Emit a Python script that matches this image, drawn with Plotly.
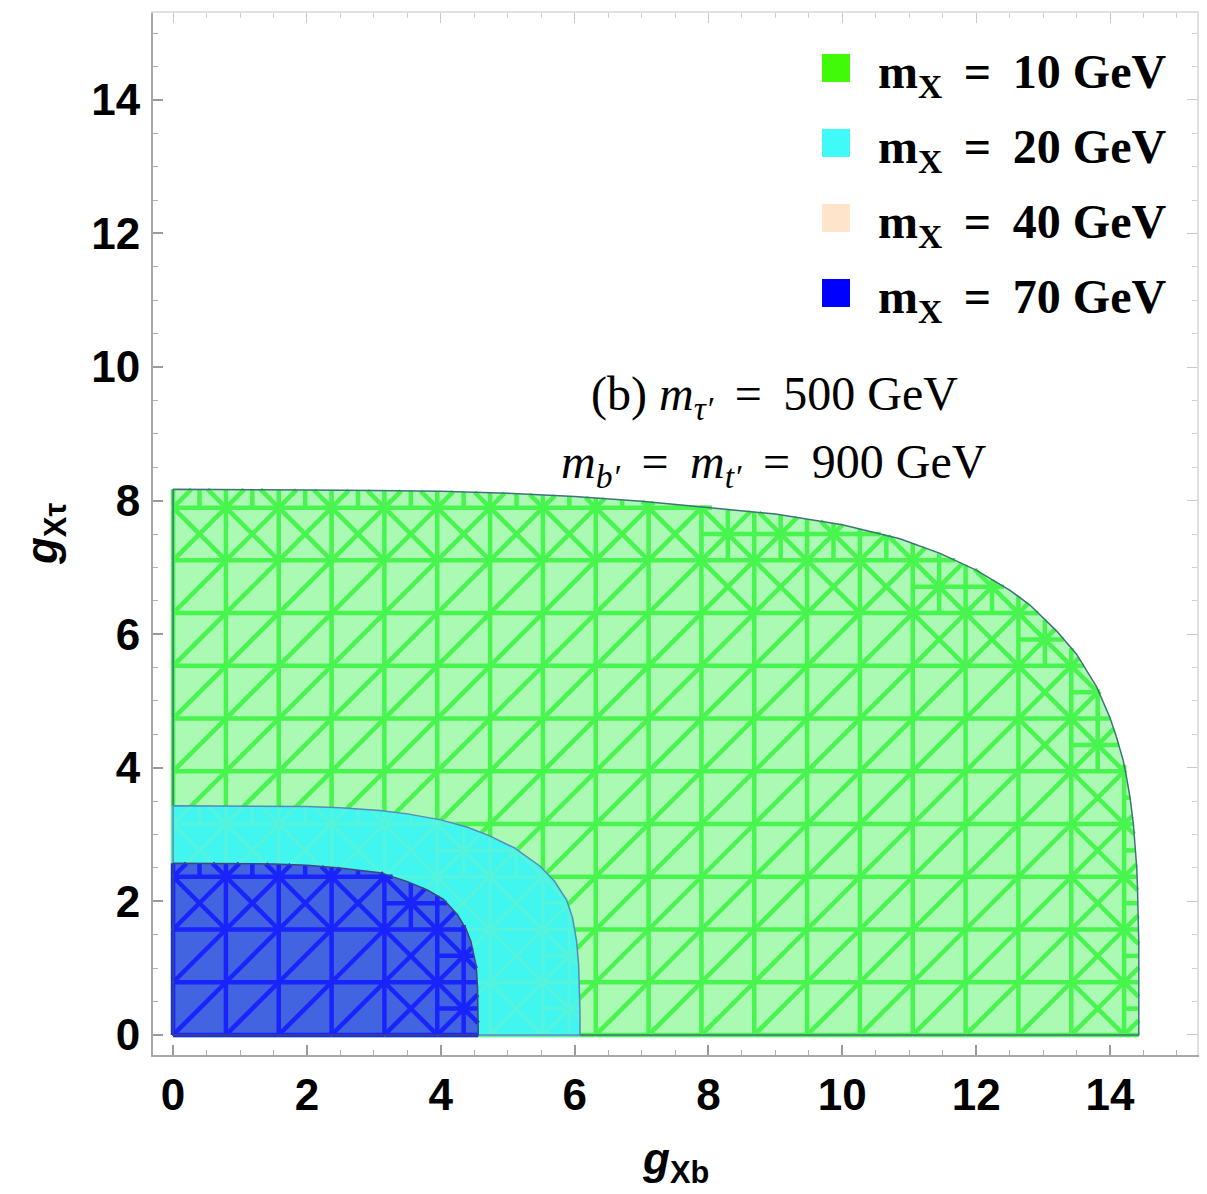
import numpy as np
import plotly.graph_objects as go

# Outer (upper-right) edge of each allowed region in the (g_Xb, g_Xtau) plane,
# running from the g_Xtau axis down to the g_Xb axis.
green_x = [0, 1, 2, 3, 4, 5, 6, 7, 8, 9, 10, 10.86, 11.46, 12.0, 12.5, 12.8,
           13.2, 13.5, 13.8, 13.9, 14.0, 14.1, 14.2, 14.25, 14.3, 14.35, 14.38,
           14.4, 14.41, 14.42, 14.43, 14.43, 14.43]
green_y = [8.17, 8.17, 8.16, 8.15, 8.14, 8.11, 8.06, 7.99, 7.90, 7.80, 7.64,
           7.43, 7.21, 6.96, 6.66, 6.44, 6.05, 5.70, 5.21, 4.99, 4.75, 4.45,
           4.10, 3.84, 3.55, 3.15, 2.80, 2.50, 2.23, 1.90, 1.40, 0.70, 0]

cyan_x = [0, 1, 2, 2.5, 3.09, 3.5, 4.0, 4.4, 4.73, 5.1, 5.48, 5.7, 5.88,
          5.97, 6.03, 6.06, 6.075, 6.08, 6.08]
cyan_y = [3.43, 3.43, 3.42, 3.40, 3.36, 3.31, 3.22, 3.11, 2.98, 2.80, 2.53,
          2.30, 2.02, 1.75, 1.40, 1.05, 0.70, 0.35, 0]

blue_x = [0, 1, 1.5, 2, 2.49, 3.09, 3.49, 3.8, 4.04, 4.25, 4.38, 4.45, 4.53,
          4.55, 4.56, 4.56]
blue_y = [2.57, 2.57, 2.56, 2.54, 2.50, 2.43, 2.30, 2.17, 2.03, 1.80, 1.58,
          1.40, 1.03, 0.70, 0.30, 0]

legend_labels = ["m<sub>X</sub> = 10 GeV", "m<sub>X</sub> = 20 GeV",
                 "m<sub>X</sub> = 40 GeV", "m<sub>X</sub> = 70 GeV"]
legend_colors = ["rgb(64,250,10)", "rgb(64,250,250)", "rgb(255,228,204)", "rgb(0,0,255)"]

x_ticks = [0, 2, 4, 6, 8, 10, 12, 14]
y_ticks = [0, 2, 4, 6, 8, 10, 12, 14]
AX_RANGE = [-0.3, 15.3]

# sampling mesh spacing of the region plot
H = 15.0 / 19.0
EPS = 1e-6


def clip_polygon(bx, by):
    """Region outline slightly widened on the axes so edges there count as inside."""
    vx = [-EPS] + list(bx[1:-1]) + [bx[-1], -EPS]
    vy = [by[0]] + list(by[1:-1]) + [-EPS, -EPS]
    return np.array(vx, float), np.array(vy, float)


def inside(px, py, vx, vy):
    px = np.atleast_1d(np.asarray(px, float))
    py = np.atleast_1d(np.asarray(py, float))
    res = np.zeros(px.shape, bool)
    n = len(vx)
    j = n - 1
    for i in range(n):
        xi, yi, xj, yj = vx[i], vy[i], vx[j], vy[j]
        cond = (yi > py) != (yj > py)
        with np.errstate(divide="ignore", invalid="ignore"):
            xint = (xj - xi) * (py - yi) / (yj - yi) + xi
        res ^= cond & (px < xint)
        j = i
    return res


def clip_segment(p0, p1, vx, vy, n=60):
    t = np.linspace(0, 1, n)
    xs = p0[0] + (p1[0] - p0[0]) * t
    ys = p0[1] + (p1[1] - p0[1]) * t
    m = inside(xs, ys, vx, vy)
    idx = np.nonzero(m)[0]
    if len(idx) < 2:
        return None

    def edge(t_in, t_out):
        for _ in range(14):
            tm = 0.5 * (t_in + t_out)
            xm = p0[0] + (p1[0] - p0[0]) * tm
            ym = p0[1] + (p1[1] - p0[1]) * tm
            if inside(xm, ym, vx, vy)[0]:
                t_in = tm
            else:
                t_out = tm
        return t_in

    a, b = idx[0], idx[-1]
    ta = t[a] if a == 0 else edge(t[a], t[a - 1])
    tb = t[b] if b == n - 1 else edge(t[b], t[b + 1])
    return (p0[0] + (p1[0] - p0[0]) * ta, p0[1] + (p1[1] - p0[1]) * ta,
            p0[0] + (p1[0] - p0[0]) * tb, p0[1] + (p1[1] - p0[1]) * tb)


def mesh_lines(bx, by):
    vx, vy = clip_polygon(bx, by)
    segs = []
    for i in range(20):
        for j in range(20):
            x0, y0 = i * H, j * H
            x1, y1 = x0 + H, y0 + H
            if not inside(x0, y0, vx, vy)[0]:
                continue
            cut = not inside(x1, y1, vx, vy)[0]
            near = (not inside(x1, y1 + H, vx, vy)[0]) or (not inside(x1 + H, y1, vx, vy)[0])
            segs += [((x0, y0), (x1, y0)), ((x0, y0), (x0, y1)), ((x0, y0), (x1, y1))]
            if cut or near:
                xm, ym = 0.5 * (x0 + x1), 0.5 * (y0 + y1)
                segs += [((x1, y0), (x0, y1))]
                if cut:
                    segs += [((xm, y0), (xm, y1)), ((x0, ym), (x1, ym))]
    lx, ly = [], []
    for p0, p1 in segs:
        c = clip_segment(p0, p1, vx, vy)
        if c is None:
            continue
        lx += [c[0], c[2], None]
        ly += [c[1], c[3], None]
    return lx, ly


fig = go.Figure()

regions = [
    (green_x, green_y, "rgb(170,250,180)", "rgb(72,244,78)", 4.5, "rgb(60,115,120)"),
    (cyan_x, cyan_y, "rgb(64,246,238)", "rgb(84,244,222)", 3.5, "rgb(85,140,185)"),
    (blue_x, blue_y, "rgb(66,100,225)", "rgb(25,35,252)", 4.5, "rgb(60,70,130)"),
]

for bx, by, fill_c, mesh_c, mesh_w, edge_c in regions:
    px = list(bx) + [0, bx[0]]
    py = list(by) + [0, by[0]]
    fig.add_trace(go.Scatter(x=px, y=py, mode="lines", fill="toself",
                             fillcolor=fill_c, line=dict(width=0),
                             showlegend=False, hoverinfo="skip"))
    mx, my = mesh_lines(bx, by)
    fig.add_trace(go.Scatter(x=mx, y=my, mode="lines",
                             line=dict(color=mesh_c, width=mesh_w),
                             showlegend=False, hoverinfo="skip"))
    fig.add_trace(go.Scatter(x=px, y=py, mode="lines",
                             line=dict(color=edge_c, width=1.5),
                             showlegend=False, hoverinfo="skip"))

# mirror frame on top / right
fig.add_trace(go.Scatter(x=[None], y=[None], xaxis="x2", yaxis="y2",
                         showlegend=False, hoverinfo="skip"))

tick_font = dict(family="Liberation Sans, Arial, sans-serif", size=44,
                 color="black", weight=700)

common = dict(range=AX_RANGE, showgrid=False, zeroline=False,
              ticks="inside", ticklen=10, tickwidth=1.5, tickcolor="#9a9a9a",
              showline=True, linewidth=2, linecolor="#a8a8a8",
              minor=dict(dtick=0.5, tick0=0, ticks="inside", ticklen=5,
                         tickwidth=1.2, tickcolor="#b0b0b0", showgrid=False))

fig.update_layout(
    width=1207, height=1194,
    margin=dict(l=153, r=10, t=13, b=139),
    paper_bgcolor="white", plot_bgcolor="white",
    showlegend=False,
    xaxis=dict(**common, tickmode="array", tickvals=x_ticks,
               ticktext=[str(v) for v in x_ticks], tickfont=tick_font,
               ticklabelstandoff=0),
    yaxis=dict(**common, tickmode="array", tickvals=y_ticks,
               ticktext=[str(v) for v in y_ticks], tickfont=tick_font,
               ticklabelstandoff=2),
    xaxis2=dict(range=AX_RANGE, overlaying="x", side="top", anchor="y2",
                showgrid=False, zeroline=False, showticklabels=False,
                ticks="inside", ticklen=10, tickwidth=1.2, tickcolor="#c8c8c8",
                tickvals=x_ticks, showline=True, linewidth=1.5, linecolor="#e0e0e0",
                minor=dict(dtick=0.5, tick0=0, ticks="inside", ticklen=5,
                           tickcolor="#d0d0d0")),
    yaxis2=dict(range=AX_RANGE, overlaying="y", side="right", anchor="x2",
                showgrid=False, zeroline=False, showticklabels=False,
                ticks="inside", ticklen=10, tickwidth=1.2, tickcolor="#c8c8c8",
                tickvals=y_ticks, showline=True, linewidth=1.5, linecolor="#e0e0e0",
                minor=dict(dtick=0.5, tick0=0, ticks="inside", ticklen=5,
                           tickcolor="#d0d0d0")),
)

# axis titles
title_font = dict(family="Liberation Sans, Arial, sans-serif", size=44, color="black", weight=700)
fig.add_annotation(text="<i>g</i><sub>Xb</sub>", xref="paper", yref="paper",
                   x=0.5, y=-0.103, xanchor="center", yanchor="middle",
                   showarrow=False, font=title_font)
fig.add_annotation(text="<i>g</i><sub>Xτ</sub>", xref="paper", yref="paper",
                   x=-0.1034, y=0.5, xanchor="center", yanchor="middle",
                   textangle=-90, showarrow=False, font=title_font)

# panel label
serif = dict(family="Liberation Serif, Times New Roman, serif", size=48, color="black")
sp = "\u2009"
fig.add_annotation(text=f"(b) <i>m</i><sub><i>τ′</i></sub>{sp} = {sp}500 GeV",
                   x=8.98, y=9.55, xref="x", yref="y", showarrow=False,
                   xanchor="center", yanchor="middle", font=serif)
fig.add_annotation(text=f"<i>m</i><sub><i>b′</i></sub>{sp} = {sp}<i>m</i><sub><i>t′</i></sub>{sp} = {sp}900 GeV",
                   x=8.98, y=8.53, xref="x", yref="y", showarrow=False,
                   xanchor="center", yanchor="middle", font=serif)

# legend: colour swatches with labels
PL, PW, PB, PH = 153, 1044, 1055, 1042
leg_font = dict(family="Liberation Serif, Times New Roman, serif", size=48,
                color="black", weight=700)
for k, (lab, col) in enumerate(zip(legend_labels, legend_colors)):
    cy = 68 + 75 * k
    fig.add_shape(type="rect", xref="paper", yref="paper",
                  x0=(822 - PL) / PW, x1=(850 - PL) / PW,
                  y0=(PB - (cy + 14)) / PH, y1=(PB - (cy - 14)) / PH,
                  fillcolor=col, line=dict(width=0))
    fig.add_annotation(text=lab.replace(" = ", sp + " = " + sp), xref="paper", yref="paper",
                       x=(876 - PL) / PW, y=(PB - (cy + 7)) / PH,
                       xanchor="left", yanchor="middle", showarrow=False,
                       font=leg_font)

fig.write_html("out.html")
